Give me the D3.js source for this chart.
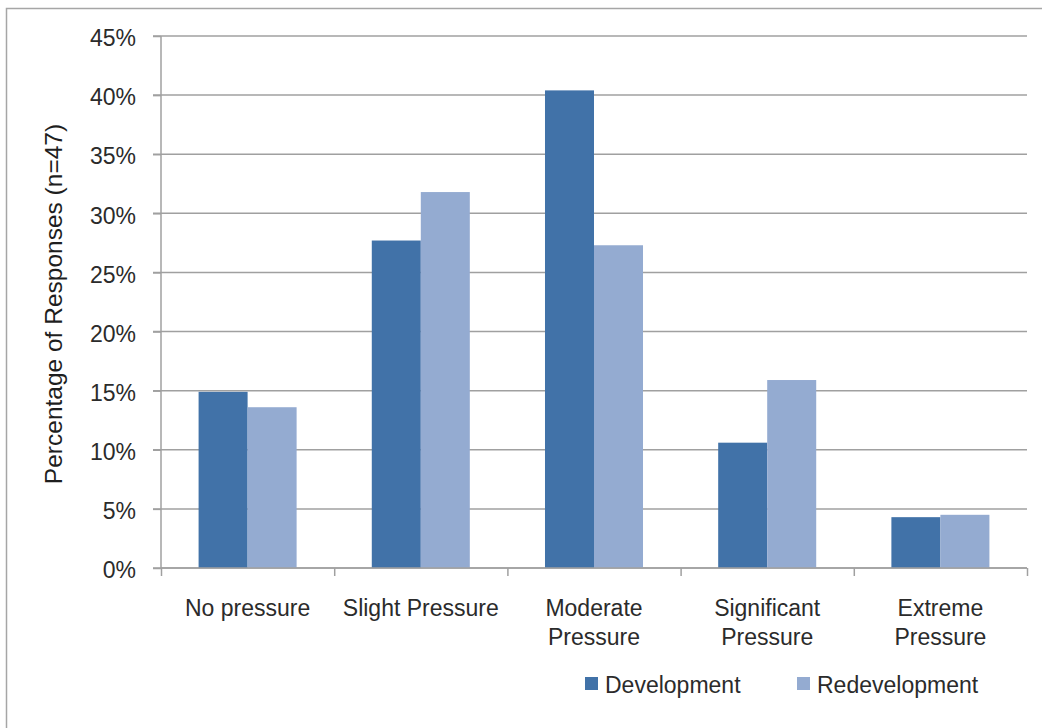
<!DOCTYPE html>
<html>
<head>
<meta charset="utf-8">
<script src="https://cdn.jsdelivr.net/npm/d3@7"></script>
<style>
  html, body { margin: 0; padding: 0; background: #fff; }
  svg { display: block; font-family: "Liberation Sans", Arial, sans-serif; }
</style>
</head>
<body>
<svg id="chart" width="1042" height="728"></svg>
<script>
// Pressure categories and share of responses for each series
const categories = [
  ["No pressure"],
  ["Slight Pressure"],
  ["Moderate", "Pressure"],
  ["Significant", "Pressure"],
  ["Extreme", "Pressure"]
];
const seriesNames = ["Development", "Redevelopment"];
const development = [0.149, 0.277, 0.404, 0.106, 0.043];
const redevelopment = [0.136, 0.318, 0.273, 0.159, 0.045];
const yTicks = [0, 0.05, 0.10, 0.15, 0.20, 0.25, 0.30, 0.35, 0.40, 0.45];
const colors = ["#4172a8", "#94abd1"];

const svg = d3.select("#chart");
const fontSize = 23;
const textColor = "#2b2b2b";
const axisColor = "#a0a0a0";

// Outer frame
svg.append("rect")
  .attr("x", 6.5).attr("y", 8.5)
  .attr("width", 1050).attr("height", 740)
  .attr("fill", "none").attr("stroke", "#a6a6a6").attr("stroke-width", 1.5);

const plotLeft = 161, plotRight = 1027, plotTop = 36, plotBottom = 568;

const x = d3.scaleBand()
  .domain(d3.range(categories.length))
  .range([plotLeft, plotRight])
  .paddingInner(0).paddingOuter(0);

// Two bars per category, sharing the middle 57% of each band
const x1 = d3.scaleBand()
  .domain(seriesNames)
  .range([0, x.bandwidth()])
  .paddingOuter(0.767).paddingInner(0);

const y = d3.scaleLinear().domain([0, 0.45]).range([plotBottom, plotTop]);

// Horizontal gridlines
svg.append("g")
  .selectAll("line")
  .data(yTicks)
  .join("line")
  .attr("x1", plotLeft - 8).attr("x2", plotRight)
  .attr("y1", d => y(d)).attr("y2", d => y(d))
  .attr("stroke", axisColor).attr("stroke-width", 1.5);

// Bars
const groups = svg.append("g")
  .selectAll("g")
  .data(categories.map((c, i) => i))
  .join("g")
  .attr("transform", i => `translate(${x(i)},0)`);

groups.selectAll("rect")
  .data(i => [development[i], redevelopment[i]].map((v, k) => ({ v, k })))
  .join("rect")
  .attr("x", d => x1(seriesNames[d.k]))
  .attr("width", x1.bandwidth())
  .attr("y", d => y(d.v))
  .attr("height", d => y(0) - y(d.v))
  .attr("fill", d => colors[d.k]);

// Y axis
const yAxis = d3.axisLeft(y)
  .tickValues(yTicks)
  .tickFormat(d3.format(".0%"))
  .tickSize(8)
  .tickPadding(17);
const gy = svg.append("g").attr("transform", `translate(${plotLeft},0)`).call(yAxis);
gy.select(".domain").attr("stroke", axisColor).attr("stroke-width", 1.5)
  .attr("d", `M0,${plotTop}V${plotBottom}`);
gy.selectAll(".tick line").attr("stroke", axisColor).attr("stroke-width", 1.5);
gy.selectAll(".tick text")
  .attr("fill", textColor).attr("font-size", fontSize)
  .attr("font-family", "'Liberation Sans', Arial, sans-serif")
  .attr("dy", "0.42em");

// X axis
const xAxis = d3.axisBottom(d3.scaleLinear().domain([0, categories.length]).range([plotLeft, plotRight]))
  .tickValues(d3.range(categories.length + 1))
  .tickSize(8)
  .tickFormat("");
const gx = svg.append("g").attr("transform", `translate(0,${plotBottom})`).call(xAxis);
gx.select(".domain").attr("stroke", axisColor).attr("stroke-width", 1.5)
  .attr("d", `M${plotLeft},0H${plotRight}`);
gx.selectAll(".tick line").attr("stroke", axisColor).attr("stroke-width", 1.5);

// Category labels
svg.append("g")
  .selectAll("text")
  .data(categories)
  .join("text")
  .attr("x", (d, i) => x(i) + x.bandwidth() / 2)
  .attr("y", 616)
  .attr("text-anchor", "middle")
  .attr("font-size", fontSize)
  .attr("fill", textColor)
  .selectAll("tspan")
  .data(d => d)
  .join("tspan")
  .attr("x", function () { return d3.select(this.parentNode).attr("x"); })
  .attr("dy", (d, j) => j === 0 ? 0 : 29)
  .text(d => d);

// Y axis title
svg.append("text")
  .attr("transform", `translate(62,${(plotTop + plotBottom) / 2 + 2}) rotate(-90)`)
  .attr("text-anchor", "middle")
  .attr("font-size", 24.5)
  .attr("fill", "#1e1e1e")
  .text("Percentage of Responses (n=47)");

// Legend
const legendX = [585, 797];
const legend = svg.append("g")
  .selectAll("g")
  .data(seriesNames)
  .join("g")
  .attr("transform", (d, i) => `translate(${legendX[i]},677)`);
legend.append("rect")
  .attr("width", 13).attr("height", 13)
  .attr("fill", (d, i) => colors[i]);
legend.append("text")
  .attr("x", 20).attr("y", 16)
  .attr("font-size", fontSize)
  .attr("fill", textColor)
  .text(d => d);
</script>
</body>
</html>
